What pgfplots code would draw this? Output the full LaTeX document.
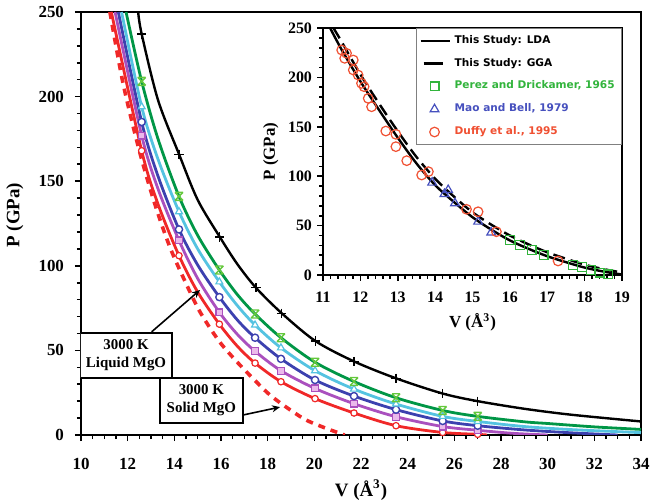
\documentclass[border=0pt]{standalone}
\usepackage{fontspec}
\setmainfont{Liberation Serif}
\newfontfamily\legfont{DejaVu Sans}
\newfontfamily\tickfont{Liberation Serif}
\usepackage{pgfplots}
\pgfplotsset{compat=1.18}
\usetikzlibrary{arrows.meta}

\definecolor{cgreen}{RGB}{0,150,70}
\definecolor{cgreenmk}{RGB}{100,200,60}
\definecolor{ccyan}{RGB}{85,195,225}
\definecolor{cblue}{RGB}{60,65,175}
\definecolor{cpurple}{RGB}{170,80,190}
\definecolor{cpurplefill}{RGB}{235,185,235}
\definecolor{cred}{RGB}{240,40,40}
\definecolor{lgreen}{RGB}{50,180,60}
\definecolor{lblue}{RGB}{70,80,190}
\definecolor{lred}{RGB}{240,80,50}

\pgfdeclareplotmark{xbar}{%
 \pgfpathmoveto{\pgfqpoint{-\pgfplotmarksize}{-\pgfplotmarksize}}%
 \pgfpathlineto{\pgfqpoint{\pgfplotmarksize}{\pgfplotmarksize}}%
 \pgfpathmoveto{\pgfqpoint{-\pgfplotmarksize}{\pgfplotmarksize}}%
 \pgfpathlineto{\pgfqpoint{\pgfplotmarksize}{-\pgfplotmarksize}}%
 \pgfpathmoveto{\pgfqpoint{-\pgfplotmarksize}{\pgfplotmarksize}}%
 \pgfpathlineto{\pgfqpoint{\pgfplotmarksize}{\pgfplotmarksize}}%
 \pgfpathmoveto{\pgfqpoint{-\pgfplotmarksize}{-\pgfplotmarksize}}%
 \pgfpathlineto{\pgfqpoint{\pgfplotmarksize}{-\pgfplotmarksize}}%
 \pgfusepathqstroke}

\pgfplotsset{
 ldaleg/.style={legend image code/.code={\draw[##1] (0bp,0bp) -- (14.5bp,0bp);}},
 ggaleg/.style={legend image code/.code={\draw[##1, solid] (1.5bp,0bp) -- (11bp,0bp);}},
 mkleg/.style={legend image code/.code={\draw[##1] plot coordinates {(7bp,0bp)};}},
}

\begin{document}
\begin{tikzpicture}
\path[use as bounding box] (0,0) rectangle (325bp,251.5bp);
\begin{axis}[
  at={(40.5bp,34bp)}, anchor=south west,
  scale only axis, width=280bp, height=211.5bp,
  xmin=10, xmax=34, ymin=0, ymax=250,
  xtick={10,12,...,34}, ytick={0,50,...,250},
  minor x tick num=3, minor y tick num=4,
  tick align=outside, xtick pos=bottom, ytick pos=left,
  axis line style={line width=1.2bp},
  major tick length=3bp, minor tick length=2bp,
  every tick/.style={black, line width=0.8bp},
  xticklabel={\tickfont\bfseries\fontsize{8.5}{9}\selectfont\pgfmathprintnumber[assume math mode=true]{\tick}},
  yticklabel={\tickfont\bfseries\fontsize{8.5}{9}\selectfont\pgfmathprintnumber[assume math mode=true]{\tick}},
  xticklabel style={yshift=-5bp},
  yticklabel style={xshift=-2bp},
  xlabel={V (Å\textsuperscript{3})}, ylabel={P (GPa)},
  label style={font=\fontsize{9.5}{11}\selectfont\bfseries},
  xlabel style={at={(axis description cs:0.5,-0.13)}, anchor=center},
  ylabel style={at={(axis description cs:-0.118,0.52)}, anchor=center},
]
% black curve
\addplot[black, line width=1.2bp, smooth] coordinates {
(12.45,250)(12.6,237)(13.3,198)(14.2,166)(15.0,139)(15.95,117)(16.7,101)(17.5,87)(18.6,72)(20.05,55.5)(21.7,43.5)(23.5,33.5)(25.5,24.5)(27,20)(29,15.5)(31,12)(34,8)};
\addplot[only marks, mark=+, black, mark size=2.3bp, line width=0.6bp] coordinates {
(12.6,237)(14.2,166)(15.95,117)(17.5,87)(18.6,72)(20.05,55.5)(21.7,43.5)(23.5,33.5)(25.5,24.5)(27,20)};
% dashed solid MgO
\addplot[cred, line width=1.8bp, smooth, dash pattern=on 3.5bp off 3bp] coordinates {
(11.24,250)(11.8,208)(12.5,168)(13.2,135)(13.9,108)(14.9,78)(15.4,66)(16.0,54)(16.7,43)(17.4,33)(18.2,22.5)(19.5,10)(20.4,4.5)(21.3,0)};
% red
\addplot[cred, line width=1.4bp, smooth] coordinates {
(11.3,250)(12.6,168)(13.3,136.5)(14.2,106)(15.0,84.5)(15.93,65.5)(16.7,52.5)(17.46,42.5)(18.57,31.5)(20.03,21.5)(21.7,13)(23.5,5.5)(25.5,1.5)(27,0.4)(27.4,0)};
% purple
\addplot[cpurple, line width=1.4bp, smooth] coordinates {
(11.46,250)(12.6,177)(13.3,145.5)(14.2,115)(15.0,92.5)(15.93,72.5)(16.7,59.5)(17.46,49.5)(18.57,38)(20.03,27.5)(21.7,18.5)(23.5,10.8)(25.5,5)(27,2.8)(28.5,1)(30,0)};
% blue
\addplot[cblue, line width=1.4bp, smooth] coordinates {
(11.6,250)(12.6,185)(13.3,153)(14.2,121.5)(15.0,100.5)(15.93,81.5)(16.7,68)(17.46,57.5)(18.57,45)(20.03,32.5)(21.7,23)(23.5,15)(25.5,8.3)(27,5.5)(29,3)(31,1.3)(33,0)};
% cyan
\addplot[ccyan, line width=1.4bp, smooth] coordinates {
(11.74,250)(12.6,194)(13.3,163)(14.2,132)(15.0,110)(15.93,90.5)(16.7,76.5)(17.46,65)(18.57,51.5)(20.03,38)(21.7,27.1)(23.5,18.3)(25.5,11)(27,8)(29,5)(31,3.2)(34,1.4)};
% green
\addplot[cgreen, line width=1.4bp, smooth] coordinates {
(11.93,250)(12.6,209)(13.3,175)(14.2,141)(15.0,118)(15.93,97.5)(16.7,83)(17.46,71.5)(18.57,57.5)(20.03,43)(21.7,31.6)(23.5,22)(25.5,14.5)(27,11)(29,7.8)(30,6.8)(32,4.8)(34,3.3)};
% markers
\addplot[only marks, mark=*, mark size=1.6bp, draw=cred, fill=white, line width=0.6bp] coordinates {
(12.6,168)(14.2,106)(15.93,65.5)(17.46,42.5)(18.57,31.5)(20.03,21.5)(21.7,13)(23.5,5.5)(25.5,1.5)(27,0.4)};
\addplot[only marks, mark=square*, mark size=1.7bp, draw=cpurple, fill=cpurplefill, line width=0.6bp] coordinates {
(12.6,177)(14.2,115)(15.93,72.5)(17.46,49.5)(18.57,38)(20.03,27.5)(21.7,18.5)(23.5,10.8)(25.5,5)(27,2.8)};
\addplot[only marks, mark=*, mark size=1.8bp, draw=cblue, fill=white, line width=0.7bp] coordinates {
(12.6,185)(14.2,121.5)(15.93,81.5)(17.46,57.5)(18.57,45)(20.03,32.5)(21.7,23)(23.5,15)(25.5,8.3)(27,5.5)};
\addplot[only marks, mark=triangle*, mark size=2bp, draw=ccyan, fill=white, line width=0.6bp] coordinates {
(12.6,194)(14.2,132)(15.93,90.5)(17.46,65)(18.57,51.5)(20.03,38)(21.7,27.1)(23.5,18.3)(25.5,11)(27,8)};
\addplot[only marks, mark=xbar, mark size=2bp, cgreenmk, line width=0.7bp] coordinates {
(12.6,209)(14.2,141)(15.93,97.5)(17.46,71.5)(18.57,57.5)(20.03,43)(21.7,31.6)(23.5,22)(25.5,14.5)(27,11)};
% annotations
\node[draw, fill=white, line width=0.8bp, minimum width=46bp, minimum height=22.5bp, align=center, inner sep=1bp,
  font=\fontsize{7.5}{9}\selectfont\bfseries] at (axis cs:11.93,47) {3000 K\\Liquid MgO};
\node[draw, fill=white, line width=0.8bp, minimum width=41.5bp, minimum height=22.5bp, align=center, inner sep=1bp,
  font=\fontsize{7.5}{9}\selectfont\bfseries] at (axis cs:15.16,20.4) {3000 K\\Solid MgO};
\draw[-{Stealth[length=4bp,width=3.5bp]}, line width=0.8bp] (axis cs:13.03,61) -- (axis cs:15.1,85.7);
\draw[-{Stealth[length=4bp,width=3.5bp]}, line width=0.8bp] (axis cs:16.94,11.8) -- (axis cs:18.53,16.5);
\end{axis}

\begin{axis}[
  at={(161.5bp,114bp)}, anchor=south west,
  scale only axis, width=149.5bp, height=123.5bp,
  axis background/.style={fill=white},
  xmin=11, xmax=19, ymin=0, ymax=250,
  xtick={11,...,19}, ytick={0,50,...,250},
  minor x tick num=4, minor y tick num=4,
  tick align=outside, xtick pos=bottom, ytick pos=left,
  axis line style={line width=1.2bp},
  major tick length=3bp, minor tick length=2bp,
  every tick/.style={black, line width=0.8bp},
  xticklabel={\tickfont\bfseries\fontsize{8}{9}\selectfont\pgfmathprintnumber[assume math mode=true]{\tick}},
  yticklabel={\tickfont\bfseries\fontsize{8}{9}\selectfont\pgfmathprintnumber[assume math mode=true]{\tick}},
  xticklabel style={yshift=-2bp},
  yticklabel style={xshift=1bp},
  xlabel={V (Å\textsuperscript{3})}, ylabel={P (GPa)},
  label style={font=\fontsize{8.5}{10}\selectfont\bfseries},
  xlabel style={at={(axis description cs:0.5,-0.19)}, anchor=center},
  ylabel style={at={(axis description cs:-0.175,0.5)}, anchor=center},
  legend style={at={(1,1)}, anchor=north east, draw=gray, line width=0.4bp,
    font=\legfont\bfseries\fontsize{5.3}{6}\selectfont, row sep=1.9bp,
    inner sep=1.5bp},
  legend cell align=left,
]
\addplot[black, line width=1.2bp, smooth, ldaleg] coordinates {
(11.19,250)(11.5,228)(12,196)(12.5,167)(13,139)(13.5,113)(14,91)(14.5,74)(15,58.5)(15.5,46)(16,35)(16.5,26.5)(17,19)(17.5,13)(18,7.5)(18.5,3.5)(19,0.5)};
\addlegendentry{This Study: LDA}
\addplot[black, line width=1.2bp, smooth, dash pattern=on 6bp off 3bp, ggaleg] coordinates {
(11.28,250)(11.5,236)(12,203)(12.5,173.5)(13,145.5)(13.5,119.5)(14,97.5)(14.5,79.5)(15,63.5)(15.5,51)(16,40)(16.5,31)(17,23)(17.5,16.5)(18,10.5)(18.5,6)(19,2.5)};
\addlegendentry{This Study: GGA}
\addplot[only marks, mark=square, mark size=2.2bp, lgreen, line width=0.6bp, mkleg] coordinates {
(16.0,35.4)(16.27,30.4)(16.58,25.3)(16.9,20.2)(17.69,10.1)(17.93,7.8)(18.16,5)(18.4,2.4)(18.63,0.6)};
\addlegendentry{\textcolor{lgreen}{Perez and Drickamer, 1965}}
\addplot[only marks, mark=triangle, mark size=2.5bp, lblue, line width=0.6bp, mkleg] coordinates {
(13.92,93.5)(14.35,86)(14.25,82)(14.53,72.6)(15.15,54)(15.5,43)};
\addlegendentry{\textcolor{lblue}{Mao and Bell, 1979}}
\addplot[only marks, mark=o, mark size=2.4bp, lred, line width=0.6bp, mkleg] coordinates {
(11.5,227.7)(11.63,224.4)(11.58,219.3)(11.81,217.6)(11.81,207.5)(11.94,202.4)(12.03,194)(12.1,190.6)(12.21,178.8)(12.3,170.3)(12.68,145.7)(12.95,142.4)(12.95,129.9)(13.24,115.7)(13.64,101.2)(13.82,104.6)(14.84,66.5)(15.15,64)(15.64,43.8)(17.29,14.2)};
\addlegendentry{\textcolor{lred}{Duffy et al., 1995}}
\end{axis}
\end{tikzpicture}
\end{document}
